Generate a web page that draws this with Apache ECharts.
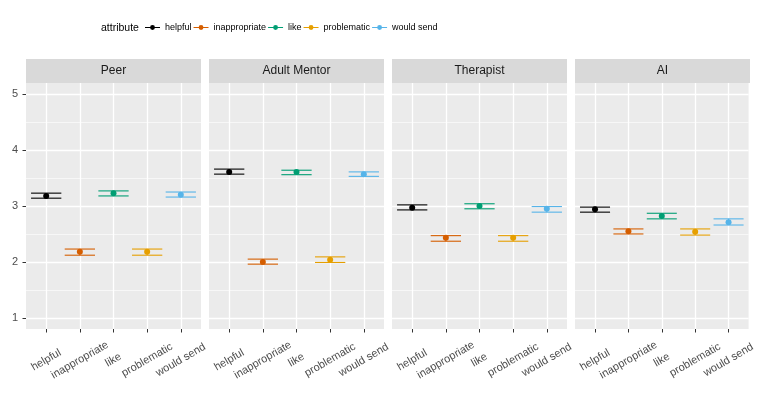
<!DOCTYPE html>
<html><head><meta charset="utf-8">
<script src="https://cdn.jsdelivr.net/npm/echarts@6/dist/echarts.min.js"></script>
<style>html,body{margin:0;padding:0;background:#fff}#c{width:758px;height:395px}</style>
</head><body><div id="c"></div>
<script>
// ---- data ----
const panels = ['Peer', 'Adult Mentor', 'Therapist', 'AI'];
const attributes = ['helpful', 'inappropriate', 'like', 'problematic', 'would send'];
const yTicks = [1, 2, 3, 4, 5];
const yMinorTicks = [1.5, 2.5, 3.5, 4.5];
const xTicks = [0, 1, 2, 3, 4];
// means, in attribute order
const meanPeer      = [3.18, 2.18, 3.23, 2.18, 3.20];
const meanMentor    = [3.61, 2.00, 3.61, 2.04, 3.57];
const meanTherapist = [2.97, 2.43, 3.00, 2.43, 2.95];
const meanAI        = [2.94, 2.55, 2.82, 2.54, 2.71];
// error bar bounds
const lowPeer       = [3.14, 2.12, 3.18, 2.12, 3.16];
const highPeer      = [3.23, 2.23, 3.27, 2.23, 3.25];
const lowMentor     = [3.57, 1.96, 3.56, 1.99, 3.53];
const highMentor    = [3.66, 2.05, 3.64, 2.09, 3.61];
const lowTherapist  = [2.93, 2.37, 2.95, 2.37, 2.89];
const highTherapist = [3.02, 2.47, 3.04, 2.47, 2.99];
const lowAI         = [2.89, 2.50, 2.77, 2.48, 2.66];
const highAI        = [2.98, 2.59, 2.87, 2.59, 2.77];

const means = [meanPeer, meanMentor, meanTherapist, meanAI];
const lows = [lowPeer, lowMentor, lowTherapist, lowAI];
const highs = [highPeer, highMentor, highTherapist, highAI];

// ---- style ----
const colors = ['#000000', '#D55E00', '#009E73', '#E69F00', '#56B4E9'];
const FONT = 'Liberation Sans, Arial, sans-serif';
const panelLeft0 = 26, panelW = 175, panelStep = 183, panelTop = 83, panelH = 246;
const stripTop = 59, stripH = 24;
const yMin = 0.8, yMax = 5.2, xMin = -0.6, xMax = 4.6, barHalf = 0.45;

const grids = [], xAxes = [], yAxes = [], series = [], graphics = [];
panels.forEach((p, i) => {
  const left = panelLeft0 + i * panelStep;
  grids.push({left: left, top: panelTop, width: panelW, height: panelH,
    show: true, backgroundColor: '#EBEBEB', borderWidth: 0, containLabel: false});
  xAxes.push({type: 'value', gridIndex: i, min: xMin, max: xMax,
    axisLine: {show: false, onZero: false},
    axisTick: {show: true, customValues: xTicks, length: 3.5, lineStyle: {color: '#333333', width: 1}},
    axisLabel: {customValues: xTicks, formatter: v => attributes[Math.round(v)] || '',
      rotate: 30, align: 'center', verticalAlign: 'middle', margin: 31,
      color: '#4D4D4D', fontSize: 11, fontFamily: FONT},
    splitLine: {show: true, lineStyle: {color: '#FFFFFF', width: 1.3}}});
  yAxes.push({type: 'value', gridIndex: i, min: yMin, max: yMax,
    axisLine: {show: false, onZero: false},
    axisTick: {show: i === 0, customValues: yTicks, length: 3.5, lineStyle: {color: '#333333', width: 1}},
    axisLabel: {show: i === 0, customValues: yTicks, margin: 8, color: '#4D4D4D', fontSize: 11, fontFamily: FONT},
    splitLine: {show: true, lineStyle: {color: '#FFFFFF', width: 1.3}}});
  yAxes.push({type: 'value', gridIndex: i, min: yMin, max: yMax,
    axisLine: {show: false, onZero: false}, axisTick: {show: false, customValues: yMinorTicks},
    axisLabel: {show: false, customValues: yMinorTicks},
    splitLine: {show: true, lineStyle: {color: '#FFFFFF', width: 0.6}}});
  graphics.push({type: 'rect', shape: {x: left, y: stripTop, width: panelW, height: stripH},
    style: {fill: '#D9D9D9'}, silent: true});
  graphics.push({type: 'text', x: left + panelW / 2, y: stripTop + stripH / 2,
    style: {text: p, align: 'center', verticalAlign: 'middle', fontSize: 12, fontFamily: FONT, fill: '#1A1A1A'}, silent: true});

  attributes.forEach((a, j) => {
    series.push({type: 'custom', name: a, xAxisIndex: i, yAxisIndex: 2 * i, z: 2,
      data: [[j, lows[i][j], highs[i][j]]],
      encode: {x: 0, y: [1, 2]},
      renderItem: (params, api) => {
        const x = api.value(0), lo = api.value(1), hi = api.value(2);
        const aL = api.coord([x - barHalf, lo]), aR = api.coord([x + barHalf, lo]);
        const bL = api.coord([x - barHalf, hi]), bR = api.coord([x + barHalf, hi]);
        const st = {stroke: colors[j], lineWidth: 1.1};
        return {type: 'group', children: [
          {type: 'line', shape: {x1: aL[0], y1: aL[1], x2: aR[0], y2: aR[1]}, style: st},
          {type: 'line', shape: {x1: bL[0], y1: bL[1], x2: bR[0], y2: bR[1]}, style: st},
          {type: 'line', shape: {x1: (aL[0] + aR[0]) / 2, y1: aL[1], x2: (bL[0] + bR[0]) / 2, y2: bL[1]}, style: st}
        ]};
      }});
    series.push({type: 'scatter', name: a, xAxisIndex: i, yAxisIndex: 2 * i, z: 3,
      symbol: 'circle', symbolSize: 6, itemStyle: {color: colors[j], opacity: 1},
      data: [[j, means[i][j]]]});
  });
});

graphics.push({type: 'text', x: 101, y: 28,
  style: {text: 'attribute', align: 'left', verticalAlign: 'middle', fontSize: 10.5, fontFamily: FONT, fill: '#000000'}});

const chart = echarts.init(document.getElementById('c'), null, {renderer: 'canvas'});
chart.setOption({
  animation: false,
  color: colors,
  grid: grids, xAxis: xAxes, yAxis: yAxes, series: series,
  graphic: graphics,
  legend: {
    data: attributes, left: 140, top: 18, itemGap: 2, itemWidth: 15, itemHeight: 5,
    icon: 'path://M0,7.4H16V8.6H0Z M10.6,8A2.6,2.6 0 1 1 5.4,8A2.6,2.6 0 1 1 10.6,8Z',
    textStyle: {fontSize: 9, fontFamily: FONT, color: '#000000'}
  }
});
</script></body></html>
